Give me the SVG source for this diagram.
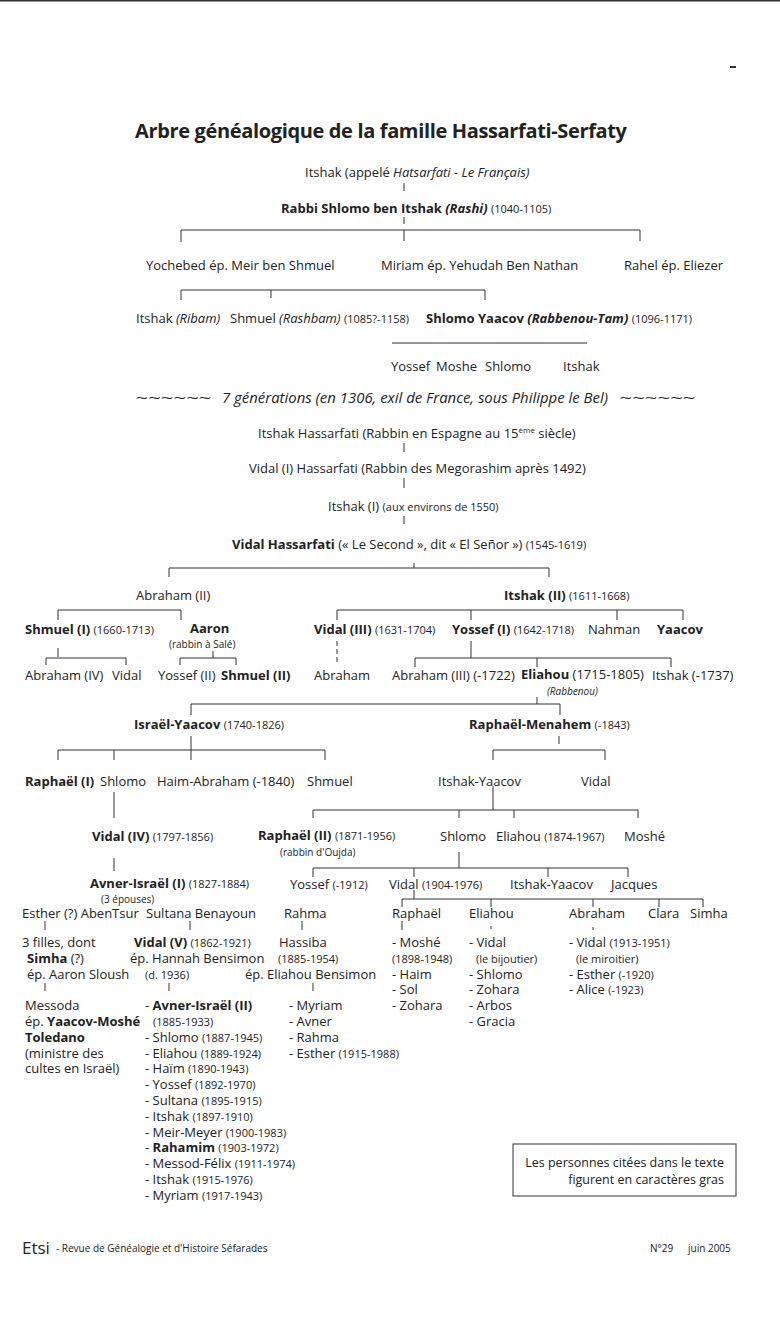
<svg xmlns="http://www.w3.org/2000/svg" width="780" height="1330" viewBox="0 0 780 1330">
<style>
text{font-family:"Open Sans","Liberation Sans",sans-serif;font-size:13px;fill:#222}
.b{font-weight:bold}
.i{font-style:italic}
.s{font-size:11px}
.x{font-size:10px}
.l{font-size:12.5px}
.g{font-size:14px}
.sup{font-size:8px}
.t{font-size:20px;font-weight:bold}
.big{font-size:17px}
.r{text-anchor:end}
#connectors path{stroke:#333;stroke-width:1;fill:none}
.box{fill:none;stroke:#333;stroke-width:1}
</style>
<rect width="780" height="1330" fill="#fff"/>
<rect x="0" y="0" width="780" height="1.5" fill="#333"/>
<path d="M730 67h6" stroke="#333" stroke-width="2"/>
<text id="title" class="t" x="135" y="138" textLength="492">Arbre généalogique de la famille Hassarfati-Serfaty</text>
<g id="connectors">
<path d="M404 183v8M404 217v7M181 230H640M181 230v12M404 230v11M640 230v11"/>
<path d="M181 290H485M181 290v10M271 290v8M485 290v10"/>
<path d="M392 343H587"/>
<path d="M404 443v9M404 478v10M404 516v8"/>
<path d="M169 568H549M169 568v9M549 568v9M414 563v5"/>
<path d="M58 610H181M58 610v10M181 610v10"/>
<path d="M58 648v9M46 658H126M46 658v7M126 658v7"/>
<path d="M213 651v7M180 658H236M180 658v7M236 658v7"/>
<path d="M337 610H683M337 610v10M471 610v10M617 610v10M683 610v10"/>
<path d="M337 641v21" stroke-dasharray="5 3"/>
<path d="M471 641v17M415 658H671M415 658v9M537 658v9M671 658v9"/>
<path d="M537 697v7M191 704H560M191 704v11M560 704v11"/>
<path d="M191 736v8M58 750H325M58 750v10M114 750v10M191 744v16M325 750v10"/>
<path d="M559 736v8M493 750H605M493 750v10M605 750v10"/>
<path d="M114 792v26"/>
<path d="M493 786v24M313 810H638M313 810v8M459 810v8M514 810v8M638 810v8"/>
<path d="M114 858v13"/>
<path d="M459 852v16M313 868H628M313 868v9M414 868v9M548 868v9M628 868v9"/>
<path d="M414 890v9M402 899H703M402 899v8M491 899v8M593 899v8M659 899v8M703 899v8"/>
<path d="M45 921v9M190 921v9M302 921v9M402 921v9M491 926v3M593 927v3"/>
<path d="M45 983v8M169 983v8M313 983v8"/>
</g>
<g id="n-itshak0"><text x="305" y="177">Itshak (appelé <tspan class="i">Hatsarfati - Le Français)</tspan></text></g>
<g id="n-rashi"><text x="281" y="213"><tspan class="b">Rabbi Shlomo ben Itshak <tspan class="i">(Rashi)</tspan></tspan> <tspan class="s">(1040-1105)</tspan></text></g>
<g id="n-yochebed"><text x="146" y="270">Yochebed ép. Meir ben Shmuel</text></g>
<g id="n-miriam"><text x="381" y="270">Miriam ép. Yehudah Ben Nathan</text></g>
<g id="n-rahel"><text x="624" y="270">Rahel ép. Eliezer</text></g>
<g id="n-ribam"><text x="136" y="323">Itshak <tspan class="i">(Ribam)</tspan></text></g>
<g id="n-rashbam"><text x="230" y="323">Shmuel <tspan class="i">(Rashbam)</tspan> <tspan class="s">(1085?-1158)</tspan></text></g>
<g id="n-tam"><text x="426" y="323"><tspan class="b">Shlomo Yaacov <tspan class="i">(Rabbenou-Tam)</tspan></tspan> <tspan class="s">(1096-1171)</tspan></text></g>
<g id="n-yossef0"><text x="391" y="371">Yossef</text></g>
<g id="n-moshe0"><text x="436" y="371">Moshe</text></g>
<g id="n-shlomo0"><text x="485" y="371">Shlomo</text></g>
<g id="n-itshak00"><text x="563" y="371">Itshak</text></g>
<g id="n-gen"><text class="i" x="135" y="403" textLength="76" lengthAdjust="spacingAndGlyphs">~~~~~~</text><text class="i g" x="222" y="403" textLength="386" lengthAdjust="spacingAndGlyphs">7 générations (en 1306, exil de France, sous Philippe le Bel)</text><text class="i" x="619" y="403" textLength="76" lengthAdjust="spacingAndGlyphs">~~~~~~</text></g>
<g id="n-itshakH"><text x="258" y="438">Itshak Hassarfati (Rabbin en Espagne au 15<tspan class="sup" dy="-5">ème</tspan><tspan dy="5"> siècle)</tspan></text></g>
<g id="n-vidal1"><text x="249" y="473">Vidal (I) Hassarfati (Rabbin des Megorashim après 1492)</text></g>
<g id="n-itshak1"><text x="328" y="511">Itshak (I) <tspan class="s">(aux environs de 1550)</tspan></text></g>
<g id="n-vidalH"><text x="232" y="549"><tspan class="b">Vidal Hassarfati</tspan> (« Le Second », dit « El Señor ») <tspan class="s">(1545-1619)</tspan></text></g>
<g id="n-abraham2"><text x="136" y="600">Abraham (II)</text></g>
<g id="n-itshak2"><text x="504" y="600"><tspan class="b">Itshak (II)</tspan> <tspan class="s">(1611-1668)</tspan></text></g>
<g id="n-shmuel1"><text x="25" y="634"><tspan class="b">Shmuel (I)</tspan> <tspan class="s">(1660-1713)</tspan></text></g>
<g id="n-aaron"><text class="b" x="190" y="633">Aaron</text><text class="x" x="169" y="648">(rabbin à Salé)</text></g>
<g id="n-vidal3"><text x="314" y="634"><tspan class="b">Vidal (III)</tspan> <tspan class="s">(1631-1704)</tspan></text></g>
<g id="n-yossef1"><text x="452" y="634"><tspan class="b">Yossef (I)</tspan> <tspan class="s">(1642-1718)</tspan></text></g>
<g id="n-nahman"><text x="588" y="634">Nahman</text></g>
<g id="n-yaacov"><text class="b" x="657" y="634">Yaacov</text></g>
<g id="n-abraham4"><text x="25" y="680">Abraham (IV)</text></g>
<g id="n-vidalA"><text x="112" y="680">Vidal</text></g>
<g id="n-yossef2"><text x="158" y="680">Yossef (II)</text></g>
<g id="n-shmuel2"><text class="b" x="221" y="680">Shmuel (II)</text></g>
<g id="n-abrahamV"><text x="314" y="680">Abraham</text></g>
<g id="n-abraham3"><text x="392" y="680">Abraham (III) (-1722)</text></g>
<g id="n-eliahou"><text x="521" y="679"><tspan class="b">Eliahou</tspan> (1715-1805)</text><text class="x i" x="547" y="695">(Rabbenou)</text></g>
<g id="n-itshakE"><text x="652" y="680">Itshak (-1737)</text></g>
<g id="n-israelY"><text x="134" y="729"><tspan class="b">Israël-Yaacov</tspan> <tspan class="s">(1740-1826)</tspan></text></g>
<g id="n-raphM"><text x="469" y="729"><tspan class="b">Raphaël-Menahem</tspan> <tspan class="s">(-1843)</tspan></text></g>
<g id="n-raph1"><text class="b" x="25" y="786">Raphaël (I)</text></g>
<g id="n-shlomoA"><text x="100" y="786">Shlomo</text></g>
<g id="n-haim"><text x="157" y="786">Haim-Abraham (-1840)</text></g>
<g id="n-shmuelA"><text x="307" y="786">Shmuel</text></g>
<g id="n-itshakY"><text x="438" y="786">Itshak-Yaacov</text></g>
<g id="n-vidalB"><text x="581" y="786">Vidal</text></g>
<g id="n-vidal4"><text x="92" y="841"><tspan class="b">Vidal (IV)</tspan> <tspan class="s">(1797-1856)</tspan></text></g>
<g id="n-raph2"><text x="258" y="840"><tspan class="b">Raphaël (II)</tspan> <tspan class="s">(1871-1956)</tspan></text><text class="x" x="280" y="856">(rabbin d'Oujda)</text></g>
<g id="n-shlomoB"><text x="440" y="841">Shlomo</text></g>
<g id="n-eliahouB"><text x="496" y="841">Eliahou <tspan class="s">(1874-1967)</tspan></text></g>
<g id="n-moshe"><text x="624" y="841">Moshé</text></g>
<g id="n-avner1"><text x="90" y="888"><tspan class="b">Avner-Israël (I)</tspan> <tspan class="s">(1827-1884)</tspan></text><text class="x" x="101" y="903">(3 épouses)</text></g>
<g id="n-yossefC"><text x="290" y="889">Yossef <tspan class="s">(-1912)</tspan></text></g>
<g id="n-vidalC"><text x="389" y="889">Vidal <tspan class="s">(1904-1976)</tspan></text></g>
<g id="n-itshakYC"><text x="510" y="889">Itshak-Yaacov</text></g>
<g id="n-jacques"><text x="611" y="889">Jacques</text></g>
<g id="n-esther"><text x="22" y="918">Esther (?) AbenTsur</text>
<text x="22" y="947">3 filles, dont</text>
<text x="27" y="962.8"><tspan class="b">Simha</tspan> (?)</text>
<text x="27" y="978.6">ép. Aaron Sloush</text>
<text x="25" y="1010.2">Messoda</text>
<text x="25" y="1026">ép. <tspan class="b">Yaacov-Moshé</tspan></text>
<text class="b" x="25" y="1041.8">Toledano</text>
<text x="25" y="1057.6">(ministre des</text>
<text x="25" y="1073.4">cultes en Israël)</text></g>
<g id="n-sultana"><text x="146" y="918">Sultana Benayoun</text>
<text x="134" y="947"><tspan class="b">Vidal (V)</tspan> <tspan class="s">(1862-1921)</tspan></text>
<text x="130" y="962.8">ép. Hannah Bensimon</text>
<text x="145" y="978.6" class="s">(d. 1936)</text>
<text x="145" y="1010.2">- <tspan class="b">Avner-Israël (II)</tspan></text>
<text x="153" y="1026" class="s">(1885-1933)</text>
<text x="145" y="1041.8">- Shlomo <tspan class="s">(1887-1945)</tspan></text>
<text x="145" y="1057.6">- Eliahou <tspan class="s">(1889-1924)</tspan></text>
<text x="145" y="1073.4">- Haïm <tspan class="s">(1890-1943)</tspan></text>
<text x="145" y="1089.2">- Yossef <tspan class="s">(1892-1970)</tspan></text>
<text x="145" y="1105">- Sultana <tspan class="s">(1895-1915)</tspan></text>
<text x="145" y="1120.8">- Itshak <tspan class="s">(1897-1910)</tspan></text>
<text x="145" y="1136.6">- Meir-Meyer <tspan class="s">(1900-1983)</tspan></text>
<text x="145" y="1152.4">- <tspan class="b">Rahamim</tspan> <tspan class="s">(1903-1972)</tspan></text>
<text x="145" y="1168.2">- Messod-Félix <tspan class="s">(1911-1974)</tspan></text>
<text x="145" y="1184">- Itshak <tspan class="s">(1915-1976)</tspan></text>
<text x="145" y="1199.8">- Myriam <tspan class="s">(1917-1943)</tspan></text></g>
<g id="n-rahma"><text x="284" y="918">Rahma</text>
<text x="279" y="947">Hassiba</text>
<text x="278" y="962.8" class="s">(1885-1954)</text>
<text x="245" y="978.6">ép. Eliahou Bensimon</text>
<text x="289" y="1010.2">- Myriam</text>
<text x="289" y="1026">- Avner</text>
<text x="289" y="1041.8">- Rahma</text>
<text x="289" y="1057.6">- Esther <tspan class="s">(1915-1988)</tspan></text></g>
<g id="n-raphC"><text x="392" y="918">Raphaël</text>
<text x="392" y="947">- Moshé</text>
<text x="392" y="962.8" class="s">(1898-1948)</text>
<text x="392" y="978.6">- Haim</text>
<text x="392" y="994.4">- Sol</text>
<text x="392" y="1010.2">- Zohara</text></g>
<g id="n-eliahouC"><text x="469" y="918">Eliahou</text>
<text x="469" y="947">- Vidal</text>
<text x="476" y="962.8" class="s">(le bijoutier)</text>
<text x="469" y="978.6">- Shlomo</text>
<text x="469" y="994.4">- Zohara</text>
<text x="469" y="1010.2">- Arbos</text>
<text x="469" y="1026">- Gracia</text></g>
<g id="n-abrahamC"><text x="569" y="918">Abraham</text>
<text x="569" y="947">- Vidal <tspan class="s">(1913-1951)</tspan></text>
<text x="576" y="962.8" class="s">(le miroitier)</text>
<text x="569" y="978.6">- Esther <tspan class="s">(-1920)</tspan></text>
<text x="569" y="994.4">- Alice <tspan class="s">(-1923)</tspan></text></g>
<g id="n-clara"><text x="648" y="918">Clara</text></g>
<g id="n-simha"><text x="690" y="918">Simha</text></g>
<g id="legend"><rect class="box" x="513" y="1144" width="223" height="52"/>
<text class="r l" x="724" y="1167">Les personnes citées dans le texte</text>
<text class="r l" x="724" y="1184">figurent en caractères gras</text></g>
<g id="footer"><text class="big" x="22" y="1254">Etsi</text><text class="x" x="56" y="1252">- Revue de Généalogie et d'Histoire Séfarades</text>
<text class="x" x="650" y="1252">N°29</text><text class="x" x="688" y="1252">juin 2005</text></g>
</svg>
